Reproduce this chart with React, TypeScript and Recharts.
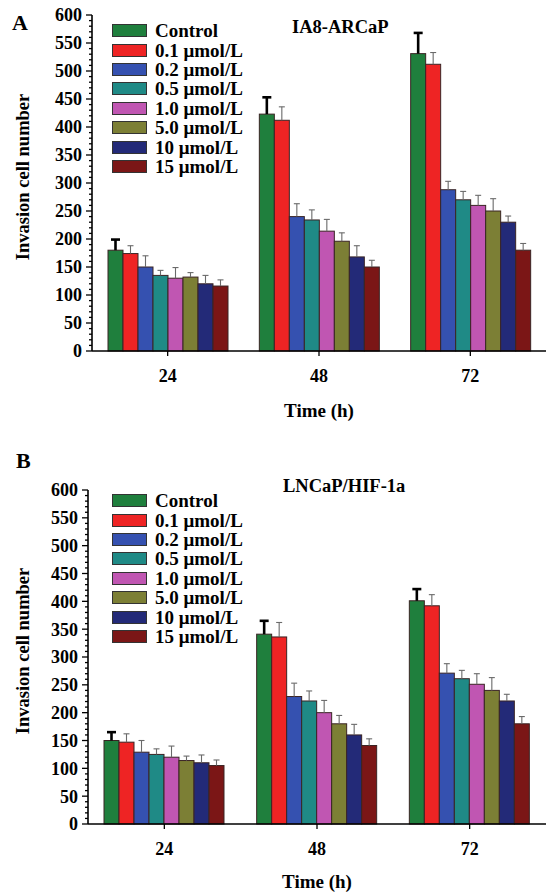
import React from "react";
import { BarChart, Bar, XAxis, YAxis, Label } from "recharts";

const times = ["24", "48", "72"];
const doses = [
  "Control",
  "0.1 μmol/L",
  "0.2 μmol/L",
  "0.5 μmol/L",
  "1.0 μmol/L",
  "5.0 μmol/L",
  "10 μmol/L",
  "15 μmol/L",
];
const colors = ["#1f7f3d", "#ee2424", "#3551b0", "#1f8a86", "#c056b2", "#7c7f35", "#232a78", "#7b1616"];

// panel A - IA8-ARCaP, one array per time point (dose order)
const a24 = [180, 174, 150, 135, 130, 132, 120, 116];
const a48 = [423, 412, 240, 234, 214, 196, 168, 150];
const a72 = [531, 512, 288, 270, 260, 250, 230, 180];
const aErr24 = [19, 14, 20, 9, 19, 8, 15, 11];
const aErr48 = [30, 24, 23, 18, 21, 15, 20, 12];
const aErr72 = [37, 21, 15, 15, 18, 22, 11, 12];

// panel B - LNCaP/HIF-1a
const b24 = [150, 147, 129, 125, 120, 114, 110, 105];
const b48 = [341, 336, 229, 221, 200, 180, 160, 141];
const b72 = [401, 392, 271, 261, 251, 240, 221, 180];
const bErr24 = [15, 15, 21, 10, 20, 8, 14, 10];
const bErr48 = [24, 26, 24, 18, 22, 15, 19, 12];
const bErr72 = [21, 20, 17, 15, 19, 23, 12, 13];

const allTicks = Array.from({ length: 61 }, (_, i) => i * 10);

const FONT = '"Liberation Serif", "Times New Roman", serif';

function buildRows(means: number[][], errs: number[][]) {
  return times.map((t, i) => {
    const row: any = { time: t };
    doses.forEach((_, j) => {
      row["s" + j] = means[i][j];
      row["e" + j] = errs[i][j];
    });
    return row;
  });
}

const YTick = (props: any) => {
  const { x, y, payload } = props;
  const major = payload.value % 50 === 0;
  const ax = x + 10;
  return (
    <g>
      <line x1={ax - (major ? 6 : 3)} x2={ax} y1={y} y2={y} stroke="#000" strokeWidth={1.3} />
      {major && (
        <text x={x} y={y} dy="0.36em" textAnchor="end" fontFamily={FONT} fontWeight="bold" fontSize={18} fill="#000">
          {payload.value}
        </text>
      )}
    </g>
  );
};

// bar rect plus an upward-only error whisker, sized from the bar's own scale
const ErrShape = (props: any) => {
  const { x, y, width, height, fill, value, err, strong } = props;
  const v = Array.isArray(value) ? value[1] - value[0] : value;
  const len = v ? (err * height) / v : 0;
  const cx = x + width / 2;
  const cap = strong ? 4.5 : 3;
  const sc = strong ? "#000" : "#6a6a6a";
  const sw = strong ? 2.6 : 1.1;
  return (
    <g>
      <rect x={x} y={y} width={width} height={height} fill={fill} stroke="#3a2424" strokeWidth={1} />
      <line x1={cx} x2={cx} y1={y} y2={y - len} stroke={sc} strokeWidth={sw} />
      <line x1={cx - cap} x2={cx + cap} y1={y - len} y2={y - len} stroke={sc} strokeWidth={sw} />
    </g>
  );
};

function LegendBox({ top }: { top: number }) {
  return (
    <div style={{ position: "absolute", left: 112, top, fontFamily: FONT, fontWeight: "bold", fontSize: 19, color: "#000" }}>
      {doses.map((d, j) => (
        <div key={d} style={{ display: "flex", alignItems: "center", height: 19.4 }}>
          <span
            style={{
              display: "inline-block",
              width: 33,
              height: 11,
              background: colors[j],
              border: "1px solid #333",
              marginRight: 8,
            }}
          />
          <span style={{ lineHeight: "19px", whiteSpace: "nowrap" }}>{d}</span>
        </div>
      ))}
    </div>
  );
}

function Panel(props: { rows: any[]; height: number; top: number; xAxisH: number; yAxisW: number; labelOffset: number }) {
  const { rows, height, top, xAxisH, yAxisW, labelOffset } = props;
  return (
    <BarChart
      width={546}
      height={height}
      data={rows}
      margin={{ top, right: 0, bottom: 0, left: 0 }}
      barGap={0}
      barSize={15}
    >
      <XAxis
        dataKey="time"
        height={xAxisH}
        tickSize={5}
        tickMargin={13}
        axisLine={{ stroke: "#000", strokeWidth: 1.6 }}
        tickLine={{ stroke: "#000", strokeWidth: 1.3 }}
        tick={{ fontFamily: FONT, fontWeight: "bold", fontSize: 18, fill: "#000" }}
      >
        <Label
          value="Time (h)"
          position="insideBottom"
          offset={labelOffset}
          style={{ fontFamily: FONT, fontWeight: "bold", fontSize: 19, fill: "#000" }}
        />
      </XAxis>
      <YAxis
        width={yAxisW}
        domain={[0, 600]}
        ticks={allTicks}
        interval={0}
        tickSize={6}
        tickMargin={4}
        tickLine={false}
        axisLine={{ stroke: "#000", strokeWidth: 1.6 }}
        tick={<YTick />}
      >
        <Label
          value="Invasion cell number"
          angle={-90}
          position="insideLeft"
          offset={22}
          dy={-6}
          textAnchor="middle"
          style={{ fontFamily: FONT, fontWeight: "bold", fontSize: 18.5, fill: "#000", textAnchor: "middle" }}
        />
      </YAxis>
      {doses.map((d, j) => (
        <Bar
          key={d}
          dataKey={"s" + j}
          name={d}
          fill={colors[j]}
          isAnimationActive={false}
          shape={(p: any) => <ErrShape {...p} err={p.payload["e" + j]} strong={j === 0} />}
        />
      ))}
    </BarChart>
  );
}

const textStyle: React.CSSProperties = {
  position: "absolute",
  fontFamily: FONT,
  fontWeight: "bold",
  color: "#000",
  whiteSpace: "nowrap",
  lineHeight: 1,
};

export default function App() {
  const rowsA = buildRows([a24, a48, a72], [aErr24, aErr48, aErr72]);
  const rowsB = buildRows([b24, b48, b72], [bErr24, bErr48, bErr72]);
  return (
    <div style={{ position: "absolute", left: 0, top: 0, width: 546, height: 892, background: "#fff", overflow: "hidden" }}>
      <div style={{ position: "absolute", left: 0, top: 0 }}>
        <Panel rows={rowsA} height={440} top={15} xAxisH={89} yAxisW={92} labelOffset={23} />
      </div>
      <div style={{ position: "absolute", left: 0, top: 450 }}>
        <Panel rows={rowsB} height={442} top={40} xAxisH={68} yAxisW={88} labelOffset={4} />
      </div>
      <LegendBox top={21} />
      <LegendBox top={491} />
      <div style={{ ...textStyle, left: 12, top: 12, fontSize: 22 }}>A</div>
      <div style={{ ...textStyle, left: 16, top: 450, fontSize: 22 }}>B</div>
      <div style={{ ...textStyle, left: 292, top: 18, fontSize: 18.5 }}>IA8-ARCaP</div>
      <div style={{ ...textStyle, left: 283, top: 477, fontSize: 18.5 }}>LNCaP/HIF-1a</div>
    </div>
  );
}
